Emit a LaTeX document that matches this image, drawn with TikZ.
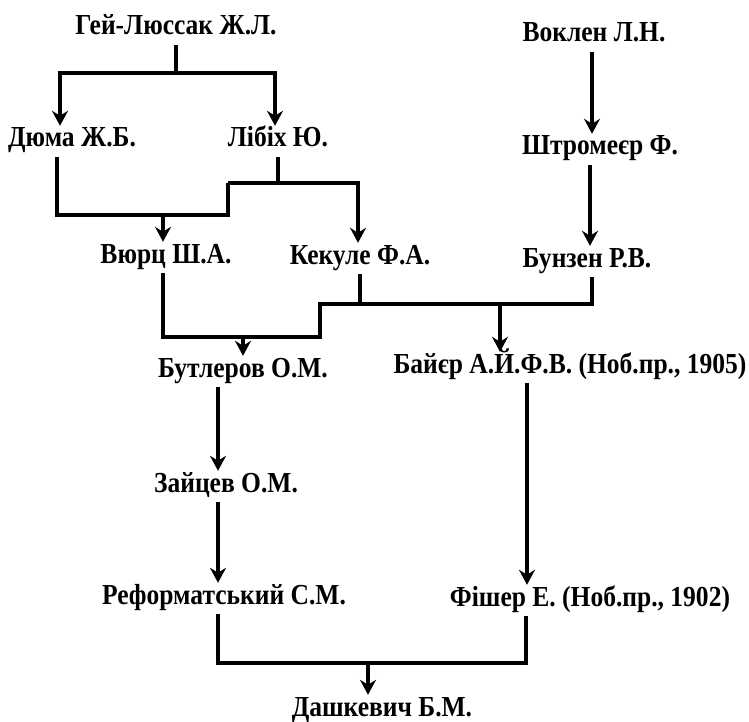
\documentclass[tikz,border=0pt]{standalone}
\usepackage{fontspec}
\setmainfont{Liberation Serif}
\newfontfamily\namefont[FakeStretch=0.88]{Liberation Serif}
\usetikzlibrary{arrows.meta}

\begin{document}
\begin{tikzpicture}[x=1pt,y=-1pt]
			\tikzset{person/.style={font=\namefont\bfseries\fontsize{29}{32}\selectfont,anchor=base,inner xsep=0pt,inner ysep=2pt,text height=19pt,text depth=8pt}}
			\tikzset{link/.style={line width=3.4pt},arr/.style={link,-{Stealth[length=15pt,width=16pt,inset=5pt]}}}
			\useasboundingbox (0,0) rectangle (749,722);
			% scientists
			\node[person] (gaylussac) at (176,35) {Гей-Люссак Ж.Л.};
			\node[person] (vauquelin) at (594,42) {Воклен Л.Н.};
			\node[person] (dumas) at (72,147) {Дюма Ж.Б.};
			\node[person] (liebig) at (278,147) {Лібіх Ю.};
			\node[person] (stromeyer) at (600,155) {Штромеєр Ф.};
			\node[person] (wurtz) at (166,263) {Вюрц Ш.А.};
			\node[person] (kekule) at (360,264) {Кекуле Ф.А.};
			\node[person] (bunsen) at (587,267) {Бунзен Р.В.};
			\node[person] (butlerov) at (243,377) {Бутлеров О.М.};
			\node[person] (baeyer) at (570,373) {Байєр А.Й.Ф.В. (Ноб.пр., 1905)};
			\node[person] (zaitsev) at (226,492) {Зайцев О.М.};
			\node[person] (reformatsky) at (224,604) {Реформатський С.М.};
			\node[person] (fischer) at (590,606) {Фішер Е. (Ноб.пр., 1902)};
			\node[person] (dashkevich) at (382,716) {Дашкевич Б.М.};
			% junctions
			\coordinate (gl) at (176,73);
			\coordinate (j1) at (228,215);
			\coordinate (j2) at (228,183);
			\coordinate (k1) at (320,337);
			\coordinate (k2) at (320,304);
			\coordinate (k3) at (500,304);
			\coordinate (m) at (368,663);
			% Gay-Lussac
			\draw[link] (gaylussac.south) -- (gl);
			\draw[arr] (gl) -| ([xshift=-12pt]dumas.north);
			\draw[arr] (gl) -| ([xshift=-3pt]liebig.north);
			% Dumas, Liebig
			\draw[link] ([xshift=-15pt]dumas.south) |- (j1) -- (j2);
			\draw[arr] (j2) -| ([xshift=-2pt]kekule.north);
			\draw[link] (liebig.south) -- (liebig.south |- j2);
			\draw[arr] ([xshift=-3pt]wurtz.north |- j1) -- ([xshift=-3pt]wurtz.north);
			% Wurtz, Kekule, Bunsen
			\draw[link] ([xshift=-3pt]wurtz.south) |- (k1) -- (k2) -| ([xshift=5pt]bunsen.south);
			\draw[link] (kekule.south) -- (kekule.south |- k2);
			\draw[arr] (butlerov.north |- k1) -- (butlerov.north);
			\draw[arr] (k3) -- (k3 |- baeyer.north);
			% Vauquelin line
			\draw[arr] ([xshift=-2pt]vauquelin.south) -- ([xshift=-2pt]vauquelin.south |- stromeyer.north);
			\draw[arr] ([xshift=-10pt]stromeyer.south) -- ([xshift=-10pt]stromeyer.south |- bunsen.north);
			% lower part
			\draw[arr] ([xshift=-25pt]butlerov.south) -- ([xshift=-25pt]butlerov.south |- zaitsev.north);
			\draw[arr] ([xshift=-8pt]zaitsev.south) -- ([xshift=-8pt]zaitsev.south |- reformatsky.north);
			\draw[arr] ([xshift=-43pt]baeyer.south) -- ([xshift=-43pt]baeyer.south |- fischer.north);
			\draw[link] ([xshift=-6pt]reformatsky.south) |- (m) -| ([xshift=-64pt]fischer.south);
			\draw[arr] (m) -- (m |- dashkevich.north);
		\end{tikzpicture}
\end{document}
